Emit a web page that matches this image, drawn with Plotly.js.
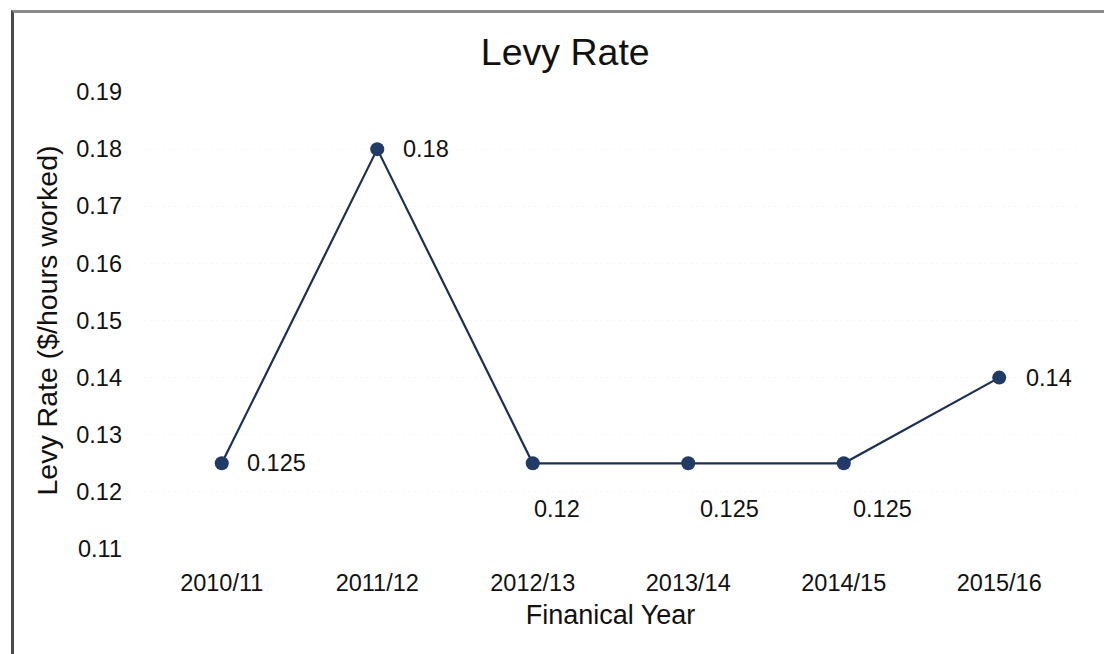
<!DOCTYPE html>
<html>
<head>
<meta charset="utf-8">
<script src="https://cdn.plot.ly/plotly-3.0.1.min.js"></script>
<style>
  html, body { margin: 0; padding: 0; background: #fff; overflow: hidden; }
  #wrap { position: relative; width: 1104px; height: 654px; overflow: hidden; }
  #chart { position: absolute; left: 0; top: 0; width: 1104px; height: 654px; }
  #frame { position: absolute; left: 11px; top: 10px; width: 1200px; height: 700px;
           border-top: 3px solid #8a8a8a; border-left: 3px solid #4a4a4a; pointer-events: none; }
</style>
</head>
<body>
<div id="wrap">
  <div id="chart"></div>
  <div id="frame"></div>
</div>
<script>
// ---- data ----
const years = ["2010/11", "2011/12", "2012/13", "2013/14", "2014/15", "2015/16"];
const levyRate = [0.125, 0.18, 0.125, 0.125, 0.125, 0.14];
const pointLabels = ["0.125", "0.18", "0.12", "0.125", "0.125", "0.14"];
const yTicks = [0.11, 0.12, 0.13, 0.14, 0.15, 0.16, 0.17, 0.18, 0.19];

// ---- label placement (style) ----
const labelPlacement = [
  {dx: 23, dy: 0}, {dx: 24, dy: 0}, {dx: -1, dy: -46},
  {dx: 10, dy: -46}, {dx: 7, dy: -46}, {dx: 25, dy: 0}
];

const font = "Liberation Sans, Arial, sans-serif";
const lineColor = "#1c3052";
const markerColor = "#213a66";

const trace = {
  type: "scatter",
  mode: "lines+markers",
  x: years,
  y: levyRate,
  line: {color: lineColor, width: 2.2},
  marker: {color: markerColor, size: 14},
  hoverinfo: "x+y"
};

const annotations = years.map((yr, i) => ({
  x: yr, y: levyRate[i], xref: "x", yref: "y",
  text: pointLabels[i], showarrow: false,
  xanchor: "left", yanchor: "middle",
  xshift: labelPlacement[i].dx, yshift: labelPlacement[i].dy,
  font: {family: font, size: 23.5, color: "#111"}
}));

const layout = {
  width: 1104, height: 654,
  margin: {l: 144, r: 27, t: 92, b: 105},
  paper_bgcolor: "rgba(0,0,0,0)",
  plot_bgcolor: "#fff",
  showlegend: false,
  font: {family: font, color: "#111"},
  title: {
    text: "Levy Rate",
    font: {family: font, size: 37.5, color: "#111"},
    x: 0.512, xanchor: "center",
    y: 0.92, yanchor: "middle", yref: "container"
  },
  xaxis: {
    type: "category",
    range: [-0.5, 5.5],
    showline: false, zeroline: false,
    showgrid: false,
    ticks: "",
    ticklabelstandoff: 17,
    tickfont: {family: font, size: 23.5, color: "#111"},
    title: {text: "Finanical Year", font: {family: font, size: 27, color: "#111"}, standoff: 10}
  },
  yaxis: {
    range: [0.11, 0.19],
    tickvals: yTicks,
    ticktext: yTicks.map(v => v.toFixed(2)),
    showline: false, zeroline: false,
    showgrid: true, gridcolor: "#f8f8f8", griddash: "dot", gridwidth: 1,
    ticks: "",
    ticklabelstandoff: 21,
    tickfont: {family: font, size: 23.5, color: "#111"},
    title: {text: "Levy Rate ($/hours worked)", font: {family: font, size: 28.5, color: "#111"}, standoff: 10}
  },
  annotations: annotations
};

Plotly.newPlot("chart", [trace], layout, {displayModeBar: false, staticPlot: true});
</script>
</body>
</html>
